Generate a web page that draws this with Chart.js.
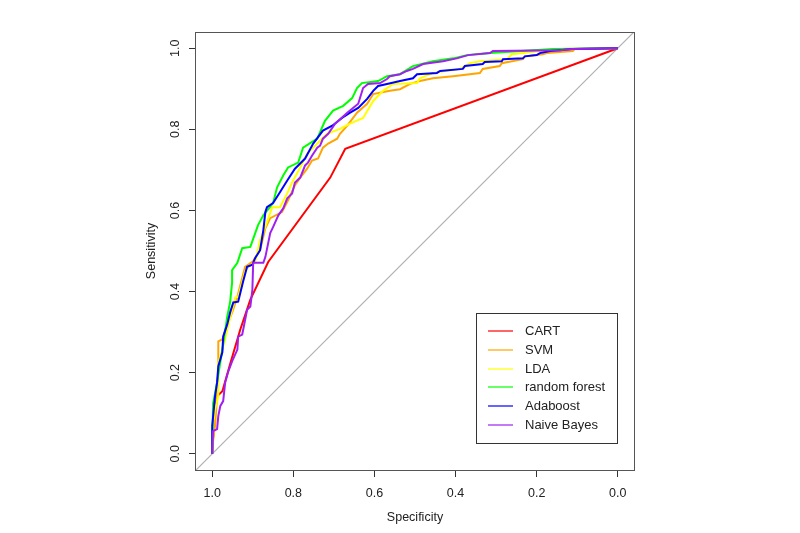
<!DOCTYPE html>
<html>
<head>
<meta charset="utf-8">
<script src="https://cdn.jsdelivr.net/npm/chart.js@4.4.1/dist/chart.umd.min.js"></script>
<style>
  html, body { margin: 0; padding: 0; background: #fff; }
</style>
</head>
<body>
<canvas id="roc" width="800" height="533"></canvas>
<script>
var modelNames = ["CART", "SVM", "LDA", "random forest", "Adaboost", "Naive Bayes"];
var modelColors = ["#ff0000", "#ffa500", "#ffff00", "#00ff00", "#0000ff", "#a020f0"];
var xTicks = [1.0, 0.8, 0.6, 0.4, 0.2, 0.0];
var yTicks = [0.0, 0.2, 0.4, 0.6, 0.8, 1.0];

// ROC points as [specificity, sensitivity]
var cart = [[1,0],[0.993,0.110],[0.988,0.142],[0.975,0.154],[0.956,0.221],[0.931,0.306],[0.906,0.380],
  [0.862,0.473],[0.709,0.681],[0.672,0.752],[0,1]];

var svm = [[1,0],[0.998,0.037],[0.993,0.069],[0.988,0.142],[0.985,0.221],[0.985,0.277],[0.975,0.282],
  [0.968,0.306],[0.951,0.348],[0.938,0.387],[0.919,0.461],[0.901,0.473],[0.882,0.502],[0.869,0.556],
  [0.857,0.581],[0.828,0.596],[0.813,0.625],[0.796,0.662],[0.783,0.681],[0.766,0.703],[0.754,0.723],
  [0.739,0.728],[0.727,0.755],[0.714,0.765],[0.692,0.777],[0.685,0.789],[0.667,0.809],[0.643,0.841],
  [0.618,0.863],[0.603,0.887],[0.562,0.895],[0.537,0.899],[0.512,0.912],[0.488,0.919],[0.456,0.926],
  [0.406,0.931],[0.340,0.939],[0.333,0.949],[0.291,0.956],[0.286,0.963],[0.234,0.973],[0.229,0.980],
  [0.185,0.985],[0.175,0.988],[0.111,0.993],[0.106,0.998],[0,1]];

var lda = [[1,0],[0.998,0.069],[0.993,0.110],[0.985,0.142],[0.985,0.225],[0.975,0.257],[0.963,0.306],
  [0.951,0.355],[0.943,0.385],[0.936,0.387],[0.919,0.449],[0.911,0.461],[0.894,0.473],[0.882,0.527],
  [0.865,0.571],[0.852,0.608],[0.833,0.608],[0.815,0.642],[0.803,0.669],[0.783,0.706],[0.766,0.740],
  [0.751,0.755],[0.734,0.772],[0.717,0.789],[0.685,0.801],[0.660,0.814],[0.628,0.828],[0.603,0.870],
  [0.579,0.895],[0.554,0.912],[0.495,0.914],[0.488,0.926],[0.456,0.939],[0.389,0.949],[0.365,0.963],
  [0.340,0.968],[0.273,0.973],[0.261,0.985],[0.192,0.993],[0.143,0.998],[0,1]];

var rf = [[1,0],[0.998,0.123],[0.988,0.176],[0.975,0.257],[0.963,0.338],[0.956,0.373],[0.951,0.422],
  [0.951,0.453],[0.938,0.471],[0.926,0.507],[0.906,0.510],[0.887,0.564],[0.874,0.588],[0.850,0.618],
  [0.840,0.657],[0.825,0.686],[0.813,0.706],[0.788,0.718],[0.776,0.755],[0.741,0.777],[0.722,0.821],
  [0.702,0.846],[0.677,0.858],[0.655,0.877],[0.643,0.902],[0.631,0.914],[0.591,0.919],[0.569,0.931],
  [0.537,0.936],[0.505,0.956],[0.456,0.968],[0.406,0.975],[0.372,0.983],[0.315,0.988],[0.160,0.998],[0,1]];

var ada = [[1,0],[1,0.069],[0.993,0.142],[0.988,0.176],[0.985,0.216],[0.975,0.250],[0.973,0.289],
  [0.963,0.319],[0.956,0.348],[0.948,0.373],[0.936,0.375],[0.924,0.424],[0.914,0.461],[0.901,0.466],
  [0.894,0.483],[0.882,0.502],[0.874,0.551],[0.869,0.596],[0.865,0.608],[0.850,0.618],[0.833,0.645],
  [0.815,0.674],[0.796,0.703],[0.771,0.728],[0.751,0.765],[0.727,0.797],[0.704,0.809],[0.680,0.828],
  [0.660,0.841],[0.640,0.853],[0.618,0.875],[0.603,0.895],[0.591,0.907],[0.569,0.912],[0.537,0.919],
  [0.505,0.926],[0.495,0.936],[0.446,0.939],[0.438,0.944],[0.382,0.949],[0.377,0.956],[0.333,0.961],
  [0.328,0.966],[0.286,0.968],[0.283,0.973],[0.234,0.975],[0.229,0.980],[0.200,0.983],[0.192,0.988],
  [0.167,0.993],[0.143,0.995],[0.111,0.998],[0,1]];

var nb = [[1,0],[1,0.005],[0.998,0.056],[0.988,0.061],[0.985,0.093],[0.980,0.118],[0.973,0.130],
  [0.968,0.176],[0.961,0.201],[0.951,0.228],[0.938,0.257],[0.936,0.289],[0.926,0.294],[0.914,0.355],
  [0.906,0.363],[0.901,0.404],[0.899,0.471],[0.874,0.471],[0.869,0.485],[0.857,0.544],[0.850,0.559],
  [0.837,0.588],[0.825,0.605],[0.815,0.630],[0.803,0.642],[0.796,0.669],[0.783,0.681],[0.771,0.711],
  [0.764,0.718],[0.754,0.735],[0.741,0.755],[0.734,0.760],[0.727,0.777],[0.714,0.789],[0.697,0.814],
  [0.667,0.841],[0.640,0.863],[0.628,0.902],[0.616,0.912],[0.586,0.914],[0.569,0.924],[0.562,0.931],
  [0.537,0.936],[0.520,0.944],[0.505,0.949],[0.480,0.961],[0.431,0.968],[0.397,0.975],[0.369,0.983],
  [0.315,0.988],[0.308,0.993],[0.143,0.995],[0.113,0.998],[0,1]];

// chance line, drawn past the axis limits and clipped
var chance = [[1.04,-0.04],[-0.04,1.04]];

var curves = [cart, svm, lda, rf, ada, nb];
var fontFamily = '"Liberation Sans", Arial, Helvetica, sans-serif';

function toXY(pts) {
    return pts.map(function (p) { return { x: p[0], y: p[1] }; });
}

var datasets = [{
    label: "chance",
    data: toXY(chance),
    borderColor: "#b0b0b0",
    borderWidth: 1.2,
    order: 10
}];
curves.forEach(function (c, i) {
    datasets.push({
        label: modelNames[i],
        data: toXY(c),
        borderColor: modelColors[i],
        borderWidth: 2,
        order: 6 - i
    });
});

// box round the plot region, like R's box()
var frame = {
    id: "frame",
    afterDraw: function (chart) {
        var a = chart.chartArea, ctx = chart.ctx;
        ctx.save();
        ctx.strokeStyle = "#555";
        ctx.lineWidth = 1;
        ctx.strokeRect(Math.round(a.left) - 0.5, Math.round(a.top) + 0.5,
            Math.round(a.right - a.left) + 1, Math.round(a.bottom - a.top));
        ctx.restore();
    }
};

var rocLegend = {
    id: "rocLegend",
    afterDraw: function (chart) {
        var a = chart.chartArea, ctx = chart.ctx;
        var w = 141, h = 130;
        var right = Math.round(a.right) - 17, bottom = Math.round(a.bottom) - 27;
        var left = right - w, top = bottom - h;
        ctx.save();
        ctx.fillStyle = "#fff";
        ctx.fillRect(left, top, w, h);
        ctx.strokeStyle = "#333";
        ctx.lineWidth = 1;
        ctx.strokeRect(left + 0.5, top + 0.5, w, h);
        ctx.font = "13px " + fontFamily;
        ctx.textBaseline = "middle";
        ctx.textAlign = "left";
        modelNames.forEach(function (name, i) {
            var y = Math.round(top + 18 + i * 18.8);
            ctx.strokeStyle = modelColors[i];
            ctx.lineWidth = 1.2;
            ctx.beginPath();
            ctx.moveTo(left + 12, y);
            ctx.lineTo(left + 37, y);
            ctx.stroke();
            ctx.fillStyle = "#222";
            ctx.fillText(name, left + 49, y + 0.5);
        });
        ctx.restore();
    }
};

var ctx = document.getElementById("roc").getContext("2d");
var rocChart = new Chart(ctx, {
    type: "scatter",
    data: { datasets: datasets },
    options: {
        responsive: false,
        animation: false,
        showLine: true,
        layout: { padding: { left: 140, right: 166, top: 32, bottom: 0 } },
        elements: {
            point: { radius: 0, hoverRadius: 0 },
            line: { tension: 0, fill: false }
        },
        plugins: {
            legend: { display: false },
            tooltip: { enabled: false }
        },
        scales: {
            x: {
                type: "linear",
                reverse: true,
                min: -0.04,
                max: 1.04,
                afterBuildTicks: function (s) {
                    s.ticks = xTicks.map(function (v) { return { value: v }; });
                },
                afterFit: function (s) { s.height = 63; },
                grid: { drawOnChartArea: false, drawTicks: true, tickLength: 7, color: "#333" },
                border: { display: false },
                ticks: {
                    color: "#222",
                    padding: 9,
                    autoSkip: false,
                    maxRotation: 0,
                    font: { family: fontFamily, size: 12.5 },
                    callback: function (v) { return Number(v).toFixed(1); }
                },
                title: {
                    display: true,
                    text: "Specificity",
                    color: "#222",
                    font: { family: fontFamily, size: 12.5 },
                    padding: { top: 0, bottom: 8 }
                }
            },
            y: {
                type: "linear",
                min: -0.04,
                max: 1.04,
                afterBuildTicks: function (s) {
                    s.ticks = yTicks.map(function (v) { return { value: v }; });
                },
                afterFit: function (s) { s.width = 56; },
                grid: { drawOnChartArea: false, drawTicks: true, tickLength: 7, color: "#333" },
                border: { display: false },
                ticks: {
                    color: "#222",
                    padding: 5,
                    autoSkip: false,
                    minRotation: 90,
                    maxRotation: 90,
                    crossAlign: "center",
                    font: { family: fontFamily, size: 12.5 },
                    callback: function (v) { return Number(v).toFixed(1); }
                },
                title: {
                    display: true,
                    text: "Sensitivity",
                    color: "#222",
                    font: { family: fontFamily, size: 12.5 },
                    padding: { top: 4, bottom: 0 }
                }
            }
        }
    },
    plugins: [frame, rocLegend]
});
</script>
</body>
</html>
